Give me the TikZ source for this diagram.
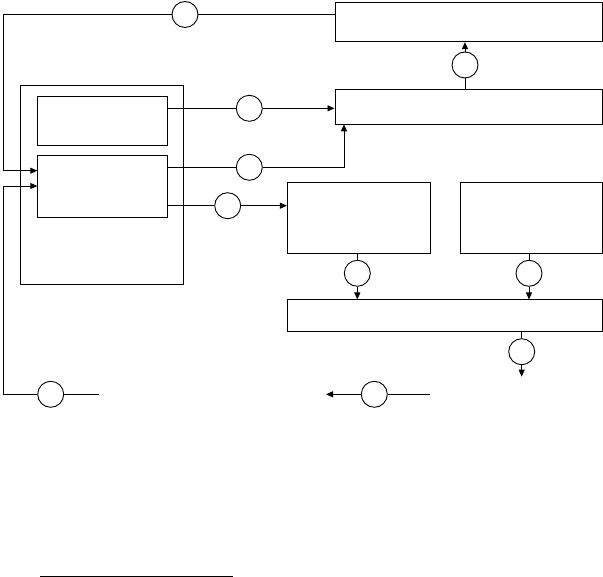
\documentclass[tikz,border=0pt]{standalone}
\usepackage{tikz}
\usetikzlibrary{arrows.meta}
\tikzset{>/.tip={Triangle[length=7pt,width=6pt]},
  blk/.style={draw, rectangle, inner sep=0pt},
  rnd/.style={draw, circle, inner sep=0pt, minimum size=26pt}}

\begin{document}
\begin{tikzpicture}[x=1pt, y=-1pt, line width=0.9pt]
\useasboundingbox (0,0) rectangle (603,577);
\node[blk, minimum width=267.3pt, minimum height=39pt]    (top)  at (468.6,22.2)  {};
\node[blk, minimum width=267.3pt, minimum height=35.3pt]  (mid)  at (468.6,106.7) {};
\node[blk, minimum width=163.3pt, minimum height=199.3pt] (unit) at (101.7,184.7) {};
\node[blk, minimum width=130pt,   minimum height=49.3pt]  (inA)  at (102.3,121.3) {};
\node[blk, minimum width=130pt,   minimum height=62.3pt]  (inB)  at (102.3,186.2) {};
\node[blk, minimum width=143.4pt, minimum height=71pt]    (boxC) at (359,217.8)   {};
\node[blk, minimum width=141.6pt, minimum height=71pt]    (boxD) at (531.5,217.8) {};
\node[blk, minimum width=315pt,   minimum height=31.7pt]  (bot)  at (444.8,315.8) {};

\node[rnd] (c1)  at (185,14.5)    {};
\node[rnd] (c2)  at (465,65)      {};
\node[rnd] (c3)  at (249.3,108.3) {};
\node[rnd] (c4)  at (249.3,167.3) {};
\node[rnd] (c5)  at (227.7,205.7) {};
\node[rnd] (c6)  at (357.3,273.3) {};
\node[rnd] (c7)  at (529,273.3)   {};
\node[rnd] (c8)  at (521.7,351.7) {};
\node[rnd] (c9)  at (50.7,394.3)  {};
\node[rnd] (c10) at (374.3,394.3) {};

\coordinate (p1)  at (3.3,14.5);
\coordinate (a1)  at (37.3,170.7);
\coordinate (p2)  at (3.3,394.3);
\coordinate (a2)  at (37.3,186);
\coordinate (q9)  at (99,394.3);
\coordinate (q10) at (430,394.3);
\coordinate (r10) at (326,394.3);
\coordinate (m4)  at (344,124.3);
\coordinate (o8)  at (521.7,376.7);
\coordinate (f1)  at (40,576.3);
\coordinate (f2)  at (232.7,576.3);

% feedback lines into the unit
\draw (top.west |- c1) to (c1);
\draw[->] (c1) -- (p1) |- (a1);
\draw (q9) to (c9);
\draw[->] (c9) -- (p2) |- (a2);

\draw (inA.east |- c3) to (c3);
\draw[->] (c3) to (mid.west |- c3);
\draw (inB.east |- c4) to (c4);
\draw[->] (c4) -| (m4);
\draw (inB.east |- c5) to (c5);
\draw[->] (c5) to (boxC.west |- c5);

\draw (mid.north -| c2) to (c2);
\draw[->] (c2) to (top.south -| c2);
\foreach \b/\c in {boxC/c6, boxD/c7}
{
  \draw (\b.south -| \c) to (\c);
  \draw[->] (\c) to (bot.north -| \c);
}
\draw (bot.south -| c8) to (c8);
\draw[->] (c8) to (o8);
\draw (q10) to (c10);
\draw[->] (c10) to (r10);

\draw (f1) to (f2);
\end{tikzpicture}
\end{document}
